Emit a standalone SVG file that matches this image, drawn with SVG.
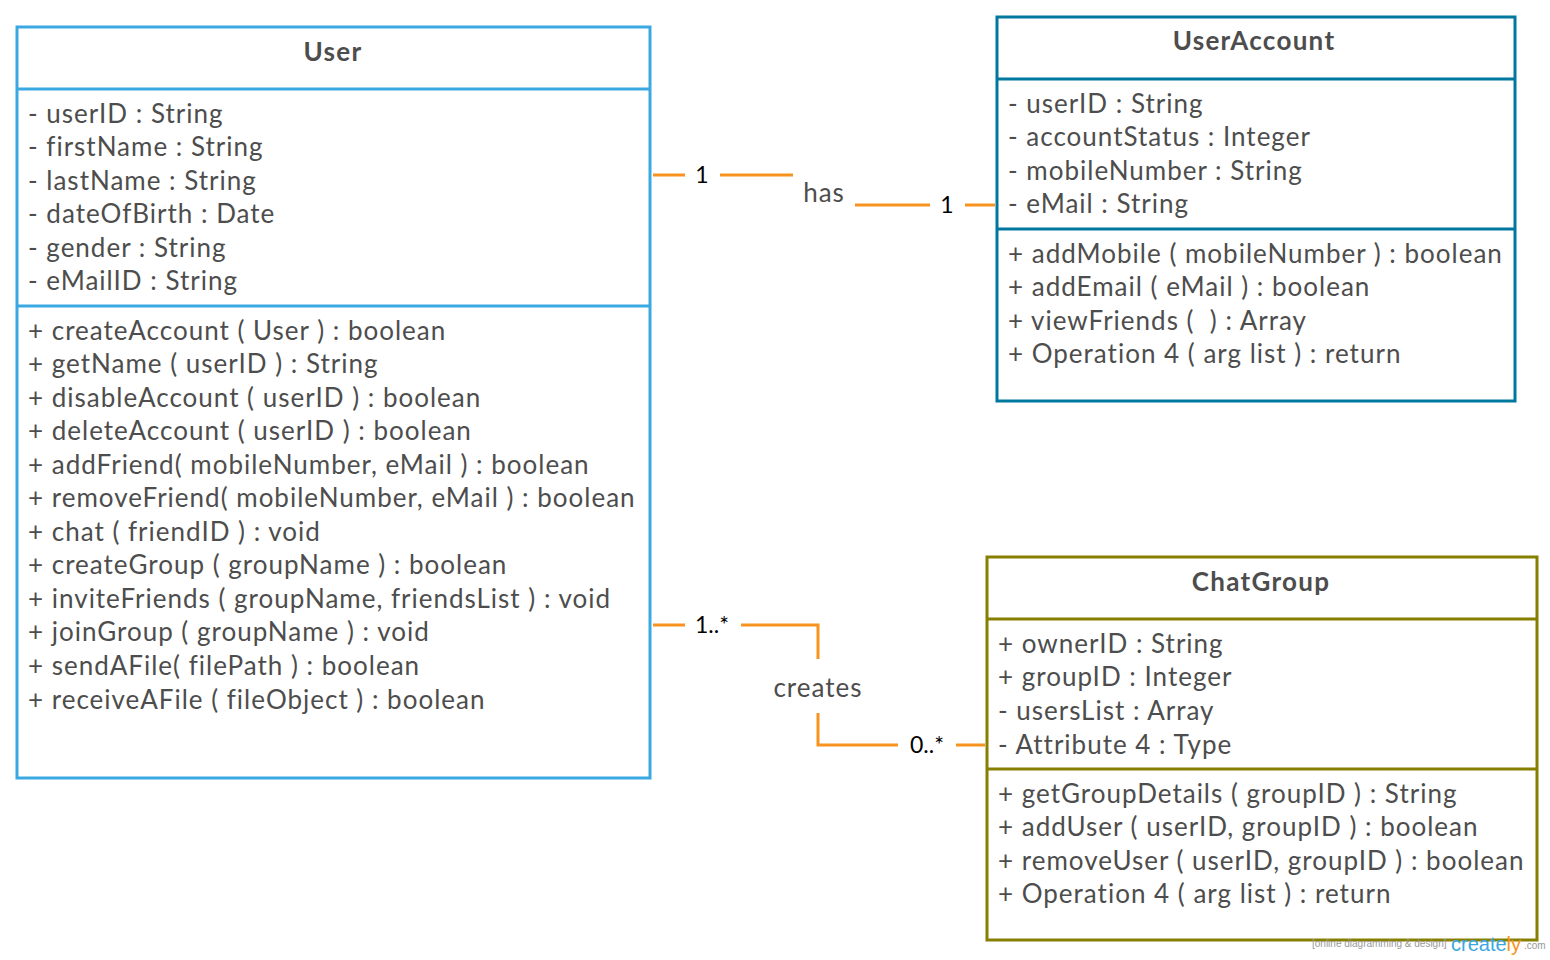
<svg xmlns="http://www.w3.org/2000/svg" width="1550" height="960" viewBox="0 0 1550 960">
  <style>
    .box { fill: #ffffff; stroke-width: 3; }
    .user { stroke: #3aa8e1; }
    .acct { stroke: #00779f; }
    .grp { stroke: #877f00; }
    .t { font-family: Lato, "Liberation Sans", sans-serif; font-size: 26px; letter-spacing: 1px; fill: #4d4d4d; }
    .title { font-family: Lato, "Liberation Sans", sans-serif; font-size: 26px; letter-spacing: 1.3px; font-weight: bold; fill: #4d4d4d; text-anchor: middle; }
    .conn { stroke: #f7931e; stroke-width: 3; fill: none; }
    .mult { font-family: Lato, "Liberation Sans", sans-serif; font-size: 23px; fill: #000000; text-anchor: middle; }
    .lbl { font-family: Lato, "Liberation Sans", sans-serif; font-size: 26px; letter-spacing: 1px; fill: #4d4d4d; text-anchor: middle; }
  </style>

  <!-- User class -->
  <g id="User">
    <rect class="box user" x="17" y="27" width="633" height="751"/>
    <line class="user" stroke-width="3" x1="17" y1="89" x2="650" y2="89"/>
    <line class="user" stroke-width="3" x1="17" y1="306" x2="650" y2="306"/>
    <text class="title" x="333" y="61">User</text>
    <text class="t" x="28" y="123">- userID : String</text>
    <text class="t" x="28" y="156">- firstName : String</text>
    <text class="t" x="28" y="190">- lastName : String</text>
    <text class="t" x="28" y="223">- dateOfBirth : Date</text>
    <text class="t" x="28" y="257">- gender : String</text>
    <text class="t" x="28" y="290">- eMailID : String</text>
    <text class="t" x="28" y="340">+ createAccount ( User ) : boolean</text>
    <text class="t" x="28" y="373">+ getName ( userID ) : String</text>
    <text class="t" x="28" y="407">+ disableAccount ( userID ) : boolean</text>
    <text class="t" x="28" y="440">+ deleteAccount ( userID ) : boolean</text>
    <text class="t" x="28" y="474">+ addFriend( mobileNumber, eMail ) : boolean</text>
    <text class="t" x="28" y="507">+ removeFriend( mobileNumber, eMail ) : boolean</text>
    <text class="t" x="28" y="541">+ chat ( friendID ) : void</text>
    <text class="t" x="28" y="574">+ createGroup ( groupName ) : boolean</text>
    <text class="t" x="28" y="608">+ inviteFriends ( groupName, friendsList ) : void</text>
    <text class="t" x="28" y="641">+ joinGroup ( groupName ) : void</text>
    <text class="t" x="28" y="675">+ sendAFile( filePath ) : boolean</text>
    <text class="t" x="28" y="709">+ receiveAFile ( fileObject ) : boolean</text>
  </g>

  <!-- UserAccount class -->
  <g id="UserAccount">
    <rect class="box acct" x="997" y="17" width="518" height="384"/>
    <line class="acct" stroke-width="3" x1="997" y1="79" x2="1515" y2="79"/>
    <line class="acct" stroke-width="3" x1="997" y1="229" x2="1515" y2="229"/>
    <text class="title" x="1254" y="50">UserAccount</text>
    <text class="t" x="1008" y="113">- userID : String</text>
    <text class="t" x="1008" y="146">- accountStatus : Integer</text>
    <text class="t" x="1008" y="180">- mobileNumber : String</text>
    <text class="t" x="1008" y="213">- eMail : String</text>
    <text class="t" x="1008" y="263">+ addMobile ( mobileNumber ) : boolean</text>
    <text class="t" x="1008" y="296">+ addEmail ( eMail ) : boolean</text>
    <text class="t" x="1008" y="330" xml:space="preserve">+ viewFriends (  ) : Array</text>
    <text class="t" x="1008" y="363">+ Operation 4 ( arg list ) : return</text>
  </g>

  <!-- ChatGroup class -->
  <g id="ChatGroup">
    <rect class="box grp" x="987" y="557" width="550" height="383"/>
    <line class="grp" stroke-width="3" x1="987" y1="619" x2="1537" y2="619"/>
    <line class="grp" stroke-width="3" x1="987" y1="769" x2="1537" y2="769"/>
    <text class="title" x="1261" y="591">ChatGroup</text>
    <text class="t" x="998" y="653">+ ownerID : String</text>
    <text class="t" x="998" y="686">+ groupID : Integer</text>
    <text class="t" x="998" y="720">- usersList : Array</text>
    <text class="t" x="998" y="754">- Attribute 4 : Type</text>
    <text class="t" x="998" y="803">+ getGroupDetails ( groupID ) : String</text>
    <text class="t" x="998" y="836">+ addUser ( userID, groupID ) : boolean</text>
    <text class="t" x="998" y="870">+ removeUser ( userID, groupID ) : boolean</text>
    <text class="t" x="998" y="903">+ Operation 4 ( arg list ) : return</text>
  </g>

  <!-- Associations -->
  <g id="connectors">
    <!-- User has UserAccount -->
    <path class="conn" d="M653,175 H685 M720,175 H793 M855,205 H930 M965,205 H995"/>
    <text class="mult" x="702" y="183">1</text>
    <text class="lbl" x="824" y="202">has</text>
    <text class="mult" x="947" y="213">1</text>
    <!-- User creates ChatGroup -->
    <path class="conn" d="M653,625 H685 M741,625 H818 V659 M818,713 V745 H898 M956,745 H985"/>
    <text class="mult" x="712" y="633">1..*</text>
    <text class="lbl" x="818" y="697">creates</text>
    <text class="mult" x="927" y="753">0..*</text>
  </g>

  <!-- Footer mark -->
  <g id="footer">
    <text x="1312" y="947" font-family="Liberation Sans, sans-serif" font-size="10" fill="#999999">[online diagramming &amp; design]</text>
    <text x="1451" y="951" font-family="Liberation Sans, sans-serif" font-size="20" fill="#3aa8e1">create<tspan fill="#f7931e">ly</tspan></text>
    <text x="1524" y="949" font-family="Liberation Sans, sans-serif" font-size="10" fill="#999999">.com</text>
  </g>
</svg>
